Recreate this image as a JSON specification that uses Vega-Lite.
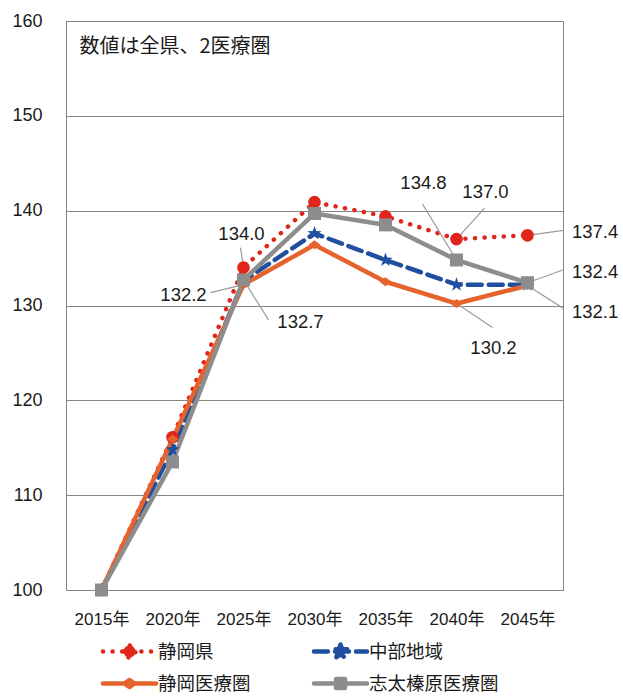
{
  "$schema": "https://vega.github.io/schema/vega-lite/v6.json",
  "width": 497,
  "height": 569,
  "autosize": "none",
  "padding": {"left": 66, "top": 21, "right": 60, "bottom": 108},
  "background": "white",
  "config": {
    "view": {"stroke": "#858585", "strokeWidth": 1},
    "font": "Liberation Sans, Noto Sans CJK JP",
    "text": {"color": "#1a1a1a", "font": "Liberation Sans, Noto Sans CJK JP"}
  },
  "datasets": {
    "d": [
      {"series": "静岡県", "year": "2015年", "value": 100},
      {"series": "静岡県", "year": "2020年", "value": 116.1},
      {"series": "静岡県", "year": "2025年", "value": 134.0},
      {"series": "静岡県", "year": "2030年", "value": 140.9},
      {"series": "静岡県", "year": "2035年", "value": 139.4},
      {"series": "静岡県", "year": "2040年", "value": 137.0},
      {"series": "静岡県", "year": "2045年", "value": 137.4},
      {"series": "中部地域", "year": "2015年", "value": 100},
      {"series": "中部地域", "year": "2020年", "value": 114.8},
      {"series": "中部地域", "year": "2025年", "value": 132.6},
      {"series": "中部地域", "year": "2030年", "value": 137.6},
      {"series": "中部地域", "year": "2035年", "value": 134.8},
      {"series": "中部地域", "year": "2040年", "value": 132.2},
      {"series": "中部地域", "year": "2045年", "value": 132.2},
      {"series": "静岡医療圏", "year": "2015年", "value": 100},
      {"series": "静岡医療圏", "year": "2020年", "value": 115.9},
      {"series": "静岡医療圏", "year": "2025年", "value": 132.2},
      {"series": "静岡医療圏", "year": "2030年", "value": 136.4},
      {"series": "静岡医療圏", "year": "2035年", "value": 132.5},
      {"series": "静岡医療圏", "year": "2040年", "value": 130.2},
      {"series": "静岡医療圏", "year": "2045年", "value": 132.1},
      {"series": "志太榛原医療圏", "year": "2015年", "value": 100},
      {"series": "志太榛原医療圏", "year": "2020年", "value": 113.5},
      {"series": "志太榛原医療圏", "year": "2025年", "value": 132.7},
      {"series": "志太榛原医療圏", "year": "2030年", "value": 139.7},
      {"series": "志太榛原医療圏", "year": "2035年", "value": 138.5},
      {"series": "志太榛原医療圏", "year": "2040年", "value": 134.8},
      {"series": "志太榛原医療圏", "year": "2045年", "value": 132.4}
    ]
  },
  "data": {"name": "d"},
  "encoding": {
    "x": {
      "field": "year", "type": "ordinal",
      "scale": {"type": "point", "padding": 0.5},
      "axis": {"title": null, "labelAngle": 0, "labelFontSize": 17, "labelColor": "#1a1a1a", "ticks": false, "tickSize": 0, "domain": false, "grid": false, "labelPadding": 21, "labelFont": "Liberation Sans, Noto Sans CJK JP"}
    },
    "y": {
      "field": "value", "type": "quantitative",
      "scale": {"domain": [100, 160], "nice": false, "zero": false},
      "axis": {"title": null, "values": [100, 110, 120, 130, 140, 150, 160], "labelFontSize": 18, "labelColor": "#1a1a1a", "ticks": false, "tickSize": 0, "domain": false, "grid": true, "gridColor": "#858585", "gridWidth": 1, "labelPadding": 24}
    }
  },
  "layer": [
    {
      "transform": [{"filter": "datum.series === '静岡県' && datum.year === '2015年'"}],
      "mark": {"type": "text", "align": "left", "baseline": "middle", "dx": -22, "fontSize": 20, "font": "Noto Sans CJK JP", "color": "#1a1a1a"},
      "encoding": {"y": {"datum": 157.3}, "text": {"value": "数値は全県、2医療圏"}}
    },
    {
      "mark": {"type": "line", "strokeCap": "round", "strokeJoin": "round"},
      "encoding": {
        "color": {
          "field": "series", "type": "nominal",
          "scale": {"domain": ["静岡県", "中部地域", "静岡医療圏", "志太榛原医療圏"], "range": ["#e0261b", "#1f4f9e", "#e6632e", "#8d8d8d"]},
          "legend": {
            "title": null, "orient": "none", "legendX": 54, "legendY": 621, "columns": 2, "direction": "horizontal",
            "columnPadding": 60, "rowPadding": 13, "padding": 0,
            "labelFontSize": 18.5, "labelFont": "Noto Sans CJK JP", "labelColor": "#1a1a1a", "labelOffset": 19,
            "symbolSize": 196, "symbolStrokeWidth": 3.5,
            "encode": {
              "symbols": {
                "update": {
                  "shape": {"signal": "datum.value === '静岡県' ? 'M-3.79,0H3.79M-0.85,0A0.85,0.85,0,1,1,0.85,0A0.85,0.85,0,1,1,-0.85,0Z' : datum.value === '中部地域' ? 'M-3.79,0H3.79M0,-1L0.235,-0.324L0.951,-0.309L0.38,0.124L0.588,0.809L0,0.4L-0.588,0.809L-0.38,0.124L-0.951,-0.309L-0.235,-0.324Z' : datum.value === '静岡医療圏' ? 'M-3.79,0H3.79M-0.71,0L0,-0.5L0.71,0L0,0.5Z' : 'M-3.79,0H3.79M-0.64,-0.64H0.64V0.64H-0.64Z'"},
                  "fill": {"signal": "datum.value === '静岡県' ? '#e0261b' : datum.value === '中部地域' ? '#1f4f9e' : datum.value === '静岡医療圏' ? '#e6632e' : '#8d8d8d'"},
                  "strokeCap": {"value": "round"},
                  "strokeJoin": {"value": "round"},
                  "opacity": {"value": 1}
                }
              }
            }
          }
        },
        "strokeDash": {
          "field": "series", "type": "nominal",
          "scale": {"domain": ["静岡県", "中部地域", "静岡医療圏", "志太榛原医療圏"], "range": [[0.1, 9.5], [14, 7], [1, 0], [1, 0]]},
          "legend": {
            "title": null, "orient": "none", "legendX": 54, "legendY": 621, "columns": 2, "direction": "horizontal",
            "columnPadding": 60, "rowPadding": 13, "padding": 0,
            "labelFontSize": 18.5, "labelFont": "Noto Sans CJK JP", "labelColor": "#1a1a1a", "labelOffset": 19,
            "symbolSize": 196, "symbolStrokeWidth": 3.5
          }
        },
        "strokeWidth": {
          "field": "series", "type": "nominal",
          "scale": {"domain": ["静岡県", "中部地域", "静岡医療圏", "志太榛原医療圏"], "range": [4.5, 4.5, 3, 4]},
          "legend": null
        }
      }
    },
    {
      "transform": [{"filter": "datum.series === '静岡県' && datum.year === '2025年'"}],
      "layer": [
        {"mark": {"type": "rule", "color": "#9a9a9a", "strokeWidth": 1.2, "x2Offset": -3, "y2Offset": -20}, "encoding": {"x2": {"field": "year"}, "y2": {"field": "value"}}},
        {"mark": {"type": "text", "dx": -2, "dy": -34, "fontSize": 18.5, "align": "center", "baseline": "middle"}, "encoding": {"text": {"field": "value", "format": ".1f"}}}
      ]
    },
    {
      "transform": [{"filter": "datum.series === '静岡医療圏' && datum.year === '2025年'"}],
      "layer": [
        {"mark": {"type": "rule", "color": "#9a9a9a", "strokeWidth": 1.2, "x2Offset": -33, "y2Offset": 8}, "encoding": {"x2": {"field": "year"}, "y2": {"field": "value"}}},
        {"mark": {"type": "text", "dx": -60, "dy": 10, "fontSize": 18.5, "align": "center", "baseline": "middle"}, "encoding": {"text": {"field": "value", "format": ".1f"}}}
      ]
    },
    {
      "transform": [{"filter": "datum.series === '志太榛原医療圏' && datum.year === '2025年'"}],
      "layer": [
        {"mark": {"type": "rule", "color": "#9a9a9a", "strokeWidth": 1.2, "x2Offset": 25, "y2Offset": 40}, "encoding": {"x2": {"field": "year"}, "y2": {"field": "value"}}},
        {"mark": {"type": "text", "dx": 57, "dy": 42, "fontSize": 18.5, "align": "center", "baseline": "middle"}, "encoding": {"text": {"field": "value", "format": ".1f"}}}
      ]
    },
    {
      "transform": [{"filter": "datum.series === '志太榛原医療圏' && datum.year === '2040年'"}],
      "layer": [
        {"mark": {"type": "rule", "color": "#9a9a9a", "strokeWidth": 1.2, "x2Offset": -34, "y2Offset": -56}, "encoding": {"x2": {"field": "year"}, "y2": {"field": "value"}}},
        {"mark": {"type": "text", "dx": -33, "dy": -77, "fontSize": 18.5, "align": "center", "baseline": "middle"}, "encoding": {"text": {"field": "value", "format": ".1f"}}}
      ]
    },
    {
      "transform": [{"filter": "datum.series === '静岡県' && datum.year === '2040年'"}],
      "layer": [
        {"mark": {"type": "rule", "color": "#9a9a9a", "strokeWidth": 1.2, "x2Offset": 28, "y2Offset": -31}, "encoding": {"x2": {"field": "year"}, "y2": {"field": "value"}}},
        {"mark": {"type": "text", "dx": 29, "dy": -47, "fontSize": 18.5, "align": "center", "baseline": "middle"}, "encoding": {"text": {"field": "value", "format": ".1f"}}}
      ]
    },
    {
      "transform": [{"filter": "datum.series === '静岡医療圏' && datum.year === '2040年'"}],
      "layer": [
        {"mark": {"type": "rule", "color": "#9a9a9a", "strokeWidth": 1.2, "x2Offset": 36, "y2Offset": 24}, "encoding": {"x2": {"field": "year"}, "y2": {"field": "value"}}},
        {"mark": {"type": "text", "dx": 37, "dy": 44, "fontSize": 18.5, "align": "center", "baseline": "middle"}, "encoding": {"text": {"field": "value", "format": ".1f"}}}
      ]
    },
    {
      "transform": [{"filter": "datum.series === '静岡県' && datum.year === '2045年'"}],
      "layer": [
        {"mark": {"type": "rule", "color": "#9a9a9a", "strokeWidth": 1.2, "x2Offset": 36, "y2Offset": -5}, "encoding": {"x2": {"field": "year"}, "y2": {"field": "value"}}},
        {"mark": {"type": "text", "dx": 44.5, "dy": -3, "fontSize": 18.5, "align": "left", "baseline": "middle"}, "encoding": {"text": {"field": "value", "format": ".1f"}}}
      ]
    },
    {
      "transform": [{"filter": "datum.series === '志太榛原医療圏' && datum.year === '2045年'"}],
      "layer": [
        {"mark": {"type": "rule", "color": "#9a9a9a", "strokeWidth": 1.2, "x2Offset": 36, "y2Offset": -13}, "encoding": {"x2": {"field": "year"}, "y2": {"field": "value"}}},
        {"mark": {"type": "text", "dx": 44.5, "dy": -11, "fontSize": 18.5, "align": "left", "baseline": "middle"}, "encoding": {"text": {"field": "value", "format": ".1f"}}}
      ]
    },
    {
      "transform": [{"filter": "datum.series === '静岡医療圏' && datum.year === '2045年'"}],
      "layer": [
        {"mark": {"type": "rule", "color": "#9a9a9a", "strokeWidth": 1.2, "x2Offset": 36, "y2Offset": 23}, "encoding": {"x2": {"field": "year"}, "y2": {"field": "value"}}},
        {"mark": {"type": "text", "dx": 44.5, "dy": 26, "fontSize": 18.5, "align": "left", "baseline": "middle"}, "encoding": {"text": {"field": "value", "format": ".1f"}}}
      ]
    },
    {
      "transform": [{"filter": "datum.series === '静岡県'"}],
      "mark": {"type": "point", "shape": "circle", "filled": true, "size": 160, "color": "#e0261b", "opacity": 1}
    },
    {
      "transform": [{"filter": "datum.series === '中部地域'"}],
      "mark": {"type": "point", "shape": "M0,-1L0.235,-0.324L0.951,-0.309L0.38,0.124L0.588,0.809L0,0.4L-0.588,0.809L-0.38,0.124L-0.951,-0.309L-0.235,-0.324Z", "filled": true, "size": 220, "color": "#1f4f9e", "opacity": 1}
    },
    {
      "transform": [{"filter": "datum.series === '静岡医療圏'"}],
      "mark": {"type": "point", "shape": "M-1,0L0,-0.75L1,0L0,0.75Z", "filled": true, "size": 144, "color": "#e6632e", "opacity": 1}
    },
    {
      "transform": [{"filter": "datum.series === '志太榛原医療圏'"}],
      "mark": {"type": "point", "shape": "square", "filled": true, "size": 169, "color": "#8d8d8d", "opacity": 1}
    }
  ]
}
